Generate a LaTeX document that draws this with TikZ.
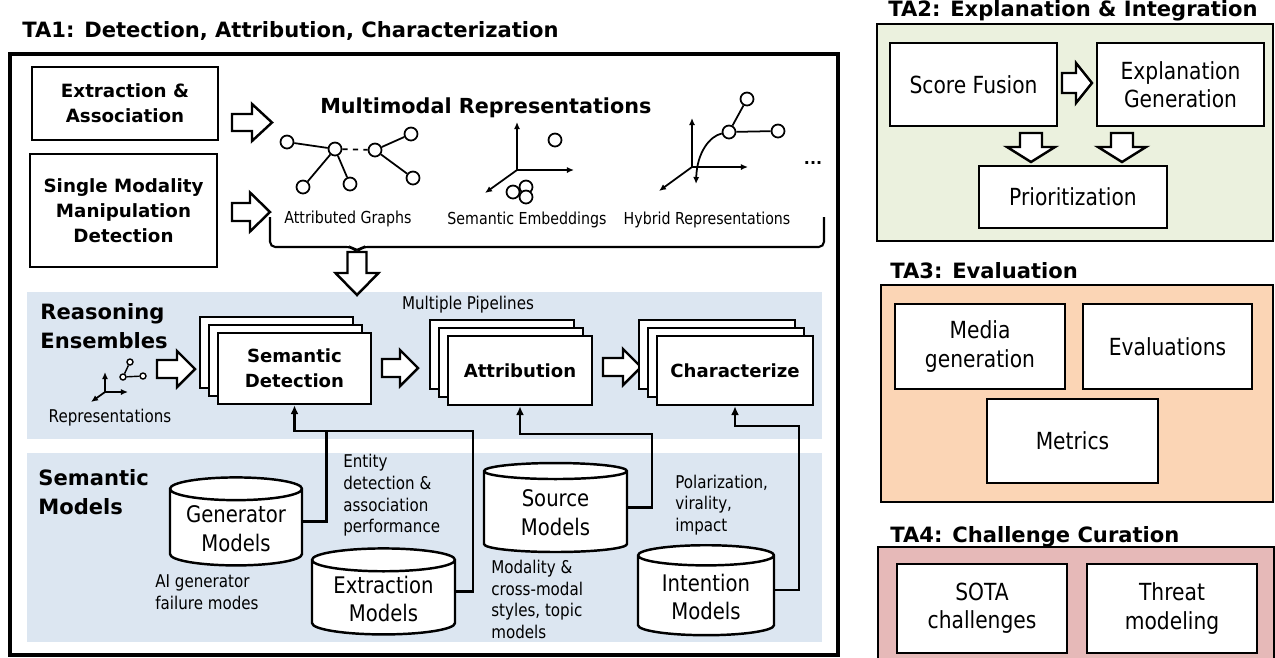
\documentclass[tikz,border=0pt]{standalone}
\usepackage{fontspec}
\setmainfont{DejaVu Sans}
\newfontfamily\condfont{DejaVu Sans}[FakeStretch=0.86]
\usetikzlibrary{arrows.meta}
\usetikzlibrary{shapes.geometric}
\usetikzlibrary{shadows}
\usetikzlibrary{calc}
\definecolor{bandblue}{HTML}{DCE6F1}
\definecolor{tagreen}{HTML}{EBF1DE}
\definecolor{taorange}{HTML}{FBD5B5}
\definecolor{tapink}{HTML}{E6B9B8}
\tikzset{>=latex}
\tikzset{
	title/.style={anchor=base west, inner sep=0pt, font=\bfseries\fontsize{12}{14}\selectfont},
	box/.style={draw, fill=white, line width=1.4pt, align=center, inner sep=2pt},
	boldbox/.style={box, font=\bfseries\fontsize{10.4}{14.2}\selectfont},
	rbox/.style={box, font=\condfont\fontsize{13.4}{16}\selectfont},
	stack/.style={box, font=\bfseries\fontsize{10.3}{14}\selectfont,
		double copy shadow={shadow xshift=-0.18cm, shadow yshift=0.16cm, draw, fill=white, line width=1.4pt}},
	cyl/.style={cylinder, shape border rotate=90, aspect=0.22, draw, fill=white, line width=1.4pt,
		align=center, inner sep=1pt, font=\condfont\fontsize{13}{16.4}\selectfont},
	gnode/.style={circle, draw, fill=white, line width=1pt, inner sep=0pt, minimum size=0.26cm},
	snode/.style={circle, draw, fill=white, line width=0.8pt, inner sep=0pt, minimum size=0.12cm},
	icon/.style={line width=1pt},
	axis/.style={line width=1pt, -{Latex[length=4pt,width=3.5pt]}},
	feed/.style={line width=1.4pt, -{Latex[length=5pt,width=4.5pt]}},
	note/.style={align=left, inner sep=0pt, font=\condfont\fontsize{10}{12.3}\selectfont},
	lbl/.style={inner sep=0pt, font=\condfont\fontsize{9.4}{11}\selectfont},
	head/.style={align=left, inner sep=0pt, font=\bfseries\fontsize{12}{16.4}\selectfont},
	frame/.style={line width=1.6pt},
	% hollow block arrow: length, head width, shaft width, head length
	pics/barrow/.style n args={4}{code={
		\draw[line width=1.4pt, fill=white, line join=miter] (0,-#3/2) -- (#1-#4,-#3/2) -- (#1-#4,-#2/2) -- (#1,0)
			-- (#1-#4,#2/2) -- (#1-#4,#3/2) -- (0,#3/2) -- cycle;}}
}

\begin{document}
\begin{tikzpicture}[x=0.02cm, y=-0.02cm]
	\useasboundingbox (0,0) rectangle (1275,657);
	% TA1
	\fill[bandblue] (27,292) rectangle (822,439);
	\fill[bandblue] (27,453) rectangle (822,642);
	\draw[line width=2.3pt] (10,54) rectangle (838,655);
	\node[title] (t1) at (22,37) {TA1: Detection, Attribution, Characterization};
	\node[boldbox, minimum width=3.72cm, minimum height=1.46cm] (ea) at (125,103.5) {Extraction \&\\Association};
	\node[boldbox, minimum width=3.74cm, minimum height=2.26cm] (smd) at (123.5,210.5) {Single Modality\\Manipulation\\Detection};
	\pic at (232,122.5) {barrow={40}{37}{17}{20}};
	\pic at (232,212) {barrow={38}{39}{18}{20}};
	\node[font=\bfseries\fontsize{11.8}{14}\selectfont, anchor=west, inner sep=0pt] (mmr) at (320,108) {Multimodal Representations};
	% attributed graph
	\node[gnode] (g1) at (287,142) {};
	\node[gnode] (g2) at (335,149) {};
	\node[gnode] (g3) at (375,150) {};
	\node[gnode] (g4) at (411,134) {};
	\node[gnode] (g5) at (413,178) {};
	\node[gnode] (g6) at (303,187) {};
	\node[gnode] (g7) at (350,184) {};
	\draw[icon] (g1) -- (g2) (g2) -- (g6) (g2) -- (g7) (g3) -- (g4) (g3) -- (g5);
	\draw[icon, dash pattern=on 3pt off 3pt] (g2) -- (g3);
	\node[lbl] (ag) at (348,219) {Attributed Graphs};
	% semantic embeddings
	\coordinate (eo) at (517,170);
	\draw[axis] (eo) -- (517,122);
	\draw[axis] (eo) -- (574,170);
	\draw[axis] (eo) -- (485,193);
	\node[gnode] (e1) at (555,140) {};
	\node[gnode] (e2) at (513,192) {};
	\node[gnode] (e3) at (526,187) {};
	\node[gnode] (e4) at (526,197) {};
	\node[lbl] (se) at (527,220) {Semantic Embeddings};
	% hybrid
	\coordinate (ho) at (692,167);
	\draw[axis] (ho) -- (692,118);
	\draw[axis] (ho) -- (748,167);
	\draw[axis] (ho) -- (659,191);
	\node[gnode] (h1) at (729,132) {};
	\node[gnode] (h2) at (747,99) {};
	\node[gnode] (h3) at (778,131) {};
	\draw[icon] (h1) -- (h2) (h1) -- (h3);
	\draw[icon, {Latex[length=4pt,width=3.5pt]}-] (696,184) .. controls (697,152) and (710,136) .. (h1);
	\node[lbl] (hr) at (707,220) {Hybrid Representations};
	\node[font=\bfseries\fontsize{9}{10}\selectfont, inner sep=0pt] (dots) at (813,163) {...};
	\draw[line width=1.2pt, rounded corners=3pt] (270,217) -- (270,247) -- (352,247) -- (357,252) -- (362,247) -- (824,247) -- (824,217);
	\pic[rotate=-90] at (357,252) {barrow={43}{43}{19}{22}};
	% reasoning ensembles
	\node[head, anchor=west] (re) at (40,326.5) {Reasoning\\Ensembles};
	\coordinate (ro) at (105,392);
	\draw[axis] (ro) -- (105,372);
	\draw[axis] (ro) -- (128,392);
	\draw[axis] (ro) -- (91,402);
	\node[snode] (r1) at (130,362) {};
	\node[snode] (r2) at (123,377) {};
	\node[snode] (r3) at (143,376) {};
	\draw[line width=0.8pt] (r1) -- (r2) -- (r3);
	\node[note] (rep) at (110,418) {Representations};
	\pic at (157,369) {barrow={38}{36}{18}{18}};
	\node[stack, minimum width=3.06cm, minimum height=1.42cm] (sd) at (294.5,368.5) {Semantic\\Detection};
	\pic at (382,368) {barrow={36}{36}{18}{18}};
	\node[note] (mp) at (468,305) {Multiple Pipelines};
	\node[stack, minimum width=2.88cm, minimum height=1.38cm] (attr) at (520,370.5) {Attribution};
	\pic at (603,367) {barrow={38}{36}{18}{18}};
	\node[stack, minimum width=3.12cm, minimum height=1.38cm] (char) at (735,370.5) {Characterize};
	% semantic models
	\node[head, anchor=west] (sm) at (38,492.5) {Semantic\\Models};
	\node[cyl, minimum width=2.64cm, minimum height=1.76cm] (gen) at (236,529) {Generator\\Models};
	\node[cyl, minimum width=2.86cm, minimum height=1.72cm] (extr) at (383.5,599) {Extraction\\Models};
	\node[cyl, minimum width=2.86cm, minimum height=1.78cm] (src) at (555.5,513) {Source\\Models};
	\node[cyl, minimum width=2.72cm, minimum height=1.8cm] (intn) at (706,597) {Intention\\Models};
	\node[note, anchor=west] (ent) at (343,495.5) {Entity\\detection \&\\association\\performance};
	\node[note, anchor=west] (aig) at (155,592.5) {AI generator\\failure modes};
	\node[note, anchor=west] (mod) at (491,599.5) {Modality \&\\cross-modal\\styles, topic\\models};
	\node[note, anchor=west] (pol) at (675,505) {Polarization,\\virality,\\impact};
	\draw[feed] (extr.east |- extr.shape center) -- ++(17,0) |- ($(sd.south)+(0,26)$) -- (sd.south);
	\draw[line width=1.4pt] (gen.east |- gen.shape center) -| ($(sd.south)+(32,26)$);
	\draw[feed] (src.east |- src.shape center) -- ++(24,0) |- ($(attr.south)+(0,28)$) -- (attr.south);
	\draw[feed] (intn.east |- intn.shape center) -- ++(24,0) |- ($(char.south)+(0,20)$) -- (char.south);
	% TA2
	\draw[frame, fill=tagreen] (877,24) rectangle (1273,241);
	\node[title] (t2) at (888,16) {TA2: Explanation \& Integration};
	\node[rbox, minimum width=3.34cm, minimum height=1.66cm] (sf) at (973.5,84.5) {Score Fusion};
	\node[rbox, minimum width=3.34cm, minimum height=1.66cm] (eg) at (1180.5,84.5) {Explanation\\Generation};
	\node[rbox, minimum width=3.76cm, minimum height=1.24cm] (pr) at (1073,197) {Prioritization};
	\pic at (1062,83) {barrow={30}{40}{20}{16}};
	\pic[rotate=-90] at (1031,133) {barrow={29}{48}{22}{15}};
	\pic[rotate=-90] at (1122,133) {barrow={29}{48}{22}{15}};
	% TA3
	\draw[frame, fill=taorange] (881,285) rectangle (1273,502);
	\node[title] (t3) at (890,278) {TA3: Evaluation};
	\node[rbox, minimum width=3.4cm, minimum height=1.7cm] (mg) at (980,346.5) {Media\\generation};
	\node[rbox, minimum width=3.38cm, minimum height=1.7cm] (ev) at (1167.5,346.5) {Evaluations};
	\node[rbox, minimum width=3.42cm, minimum height=1.68cm] (me) at (1072.5,441) {Metrics};
	% TA4
	\draw[frame, fill=tapink] (878,547) rectangle (1274,680);
	\node[title] (t4) at (890,542) {TA4: Challenge Curation};
	\node[rbox, minimum width=3.4cm, minimum height=1.78cm] (sota) at (982,608.5) {SOTA\\challenges};
	\node[rbox, minimum width=3.4cm, minimum height=1.78cm] (tm) at (1172,608.5) {Threat\\modeling};
\end{tikzpicture}
\end{document}
